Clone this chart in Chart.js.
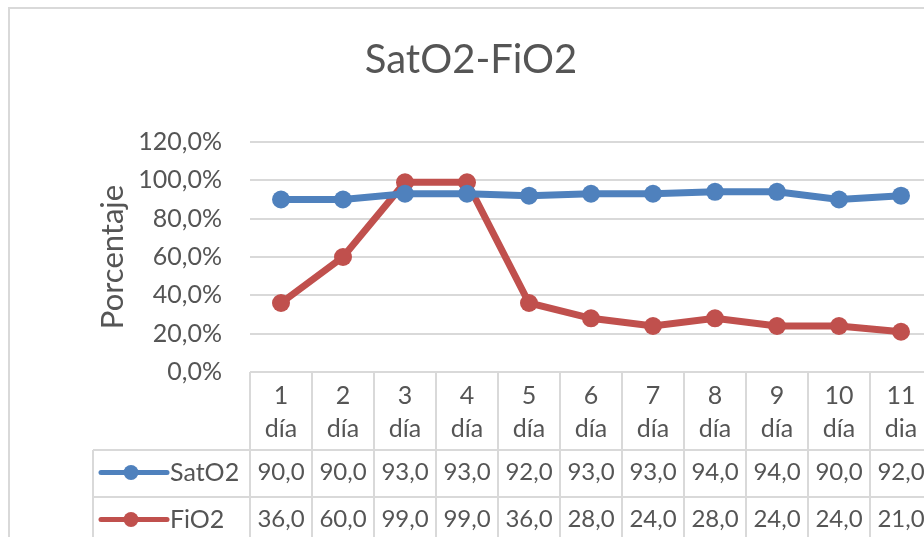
<!DOCTYPE html>
<html>
<head>
<meta charset="utf-8">
<script src="https://cdn.jsdelivr.net/npm/chart.js@4/dist/chart.umd.min.js"></script>
<style>
  html, body { margin: 0; padding: 0; overflow: hidden; background: #ffffff; }
  #wrap { position: absolute; left: 0; top: 0; width: 960px; height: 560px; }
</style>
</head>
<body>
<div id="wrap"><canvas id="c" width="960" height="560"></canvas></div>
<script>
// ---- data ----
const chartTitle = 'SatO2-FiO2';
const yAxisTitle = 'Porcentaje';
const categories = ['1 día', '2 día', '3 día', '4 día', '5 día', '6 día', '7 día', '8 día', '9 día', '10 día', '11 dia'];
const seriesNames = ['SatO2', 'FiO2'];
const satO2 = [90, 90, 93, 93, 92, 93, 93, 94, 94, 90, 92];
const fiO2 = [36, 60, 99, 99, 36, 28, 24, 28, 24, 24, 21];
const yTicks = [0, 20, 40, 60, 80, 100, 120];

// ---- styles ----
const FONT = 'Lato, "Open Sans", sans-serif';
const TEXT = '#555555';
const GRID = '#d9d9d9';
const BLUE = '#4f81bd';
const RED = '#c0504d';
const seriesColors = [BLUE, RED];

const fmtPct = v => v.toFixed(1).replace('.', ',') + '%';
const fmtNum = v => v.toFixed(1).replace('.', ',');

const tablePlugin = {
  id: 'dataTable',
  beforeDraw(chart) {
    const ctx = chart.ctx;
    ctx.save();
    ctx.fillStyle = '#ffffff';
    ctx.fillRect(0, 0, chart.width, chart.height);
    // outer chart border
    ctx.strokeStyle = GRID;
    ctx.lineWidth = 2;
    ctx.beginPath();
    ctx.moveTo(9, chart.height);
    ctx.lineTo(9, 8);
    ctx.lineTo(chart.width, 8);
    ctx.stroke();
    ctx.restore();
  },
  afterDraw(chart) {
    const ctx = chart.ctx;
    const x = chart.scales.x;
    const area = chart.chartArea;
    const n = categories.length;
    const colW = (area.right - area.left) / n;
    const headerBottom = area.bottom + 78;
    const rowH = 47;
    const tableLeft = 93;
    const bottom = chart.height;
    ctx.save();
    ctx.strokeStyle = GRID;
    ctx.lineWidth = 2;
    ctx.beginPath();
    // vertical column boundaries
    for (let k = 0; k <= n; k++) {
      const xx = Math.round(area.left + k * colW);
      ctx.moveTo(xx, area.bottom);
      ctx.lineTo(xx, bottom);
    }
    // left edge of legend rows
    ctx.moveTo(tableLeft, headerBottom);
    ctx.lineTo(tableLeft, bottom);
    // row separators
    for (let r = 0; r <= seriesNames.length; r++) {
      const yy = headerBottom + r * rowH;
      ctx.moveTo(tableLeft, yy);
      ctx.lineTo(area.right, yy);
    }
    ctx.stroke();

    const rows = [satO2, fiO2];
    rows.forEach((vals, r) => {
      const cy = headerBottom + r * rowH + rowH / 2 - 1;
      // legend key
      ctx.strokeStyle = seriesColors[r];
      ctx.fillStyle = seriesColors[r];
      ctx.lineWidth = 5;
      ctx.lineCap = 'round';
      ctx.beginPath();
      ctx.moveTo(101, cy);
      ctx.lineTo(167, cy);
      ctx.stroke();
      ctx.beginPath();
      ctx.arc(131, cy, 7.5, 0, Math.PI * 2);
      ctx.fill();
      // series name
      ctx.fillStyle = TEXT;
      ctx.font = '25px ' + FONT;
      ctx.textAlign = 'left';
      ctx.textBaseline = 'middle';
      ctx.fillText(seriesNames[r], 170, cy);
      // values
      ctx.textAlign = 'center';
      ctx.font = '24px ' + FONT;
      vals.forEach((v, i) => {
        ctx.fillText(fmtNum(v), x.getPixelForValue(i), cy);
      });
    });
    ctx.restore();
  }
};

new Chart(document.getElementById('c'), {
  type: 'line',
  data: {
    labels: categories.map(c => c.split(' ')),
    datasets: [
      {
        label: seriesNames[0], data: satO2,
        borderColor: BLUE, backgroundColor: BLUE,
        pointBackgroundColor: BLUE, pointBorderWidth: 0,
        borderWidth: 7, pointRadius: 9, tension: 0
      },
      {
        label: seriesNames[1], data: fiO2,
        borderColor: RED, backgroundColor: RED,
        pointBackgroundColor: RED, pointBorderWidth: 0,
        borderWidth: 7, pointRadius: 9, tension: 0
      }
    ]
  },
  options: {
    responsive: false,
    devicePixelRatio: 1,
    animation: false,
    layout: { padding: { top: 0, left: 10, right: 28, bottom: 16 } },
    plugins: {
      legend: { display: false },
      tooltip: { enabled: false },
      title: {
        display: true,
        text: chartTitle,
        color: TEXT,
        font: { family: FONT, size: 40, weight: 'normal', lineHeight: 1.2 },
        padding: { top: 36, bottom: 58 }
      }
    },
    scales: {
      x: {
        offset: true,
        grid: { display: false },
        border: { display: false },
        ticks: {
          color: TEXT,
          font: { family: FONT, size: 25, lineHeight: 1.3 },
          padding: 0,
          maxRotation: 0,
          autoSkip: false
        },
        afterFit: s => { s.height = 172; }
      },
      y: {
        min: 0,
        max: 120,
        afterBuildTicks: s => { s.ticks = yTicks.map(v => ({ value: v })); },
        grid: { color: GRID, lineWidth: 2, drawTicks: false },
        border: { display: false },
        ticks: {
          color: TEXT,
          font: { family: FONT, size: 25 },
          padding: 28,
          callback: v => fmtPct(v)
        },
        title: {
          display: true,
          text: yAxisTitle,
          color: TEXT,
          font: { family: FONT, size: 31, lineHeight: 1.2 },
          padding: { top: 84, bottom: 0 }
        },
        afterFit: s => { s.width = 240; }
      }
    }
  },
  plugins: [tablePlugin]
});
</script>
</body>
</html>
